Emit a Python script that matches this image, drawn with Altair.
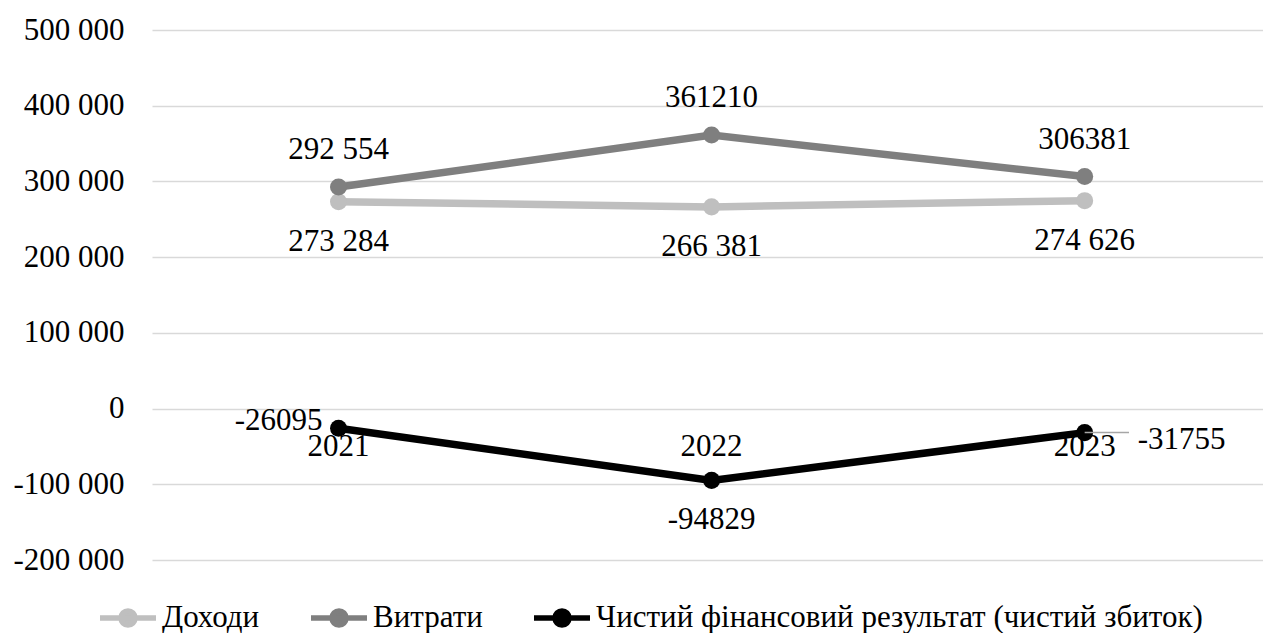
import altair as alt
import pandas as pd

# Source figures (UAH thousand)
years = [2021, 2022, 2023]
series_names = ["Доходи", "Витрати", "Чистий фінансовий результат (чистий збиток)"]
dokhody = [273284, 266381, 274626]
vytraty = [292554, 361210, 306381]
chystyi = [-26095, -94829, -31755]
# whether a value label is printed with a thousands space
dokhody_grouped = [True, True, True]
vytraty_grouped = [True, False, False]
chystyi_grouped = [False, False, False]

series_colors = ["#bfbfbf", "#7f7f7f", "#000000"]
FONT = "Liberation Serif"
FS = 31


def fmt(v, grouped):
    if not grouped:
        return str(v)
    s = f"{abs(v):,}".replace(",", " ")
    return ("-" if v < 0 else "") + s


rows = []
for name, vals, grp in zip(series_names, [dokhody, vytraty, chystyi],
                           [dokhody_grouped, vytraty_grouped, chystyi_grouped]):
    for y, v, g in zip(years, vals, grp):
        rows.append({"year": y, "series": name, "value": v, "label": fmt(v, g)})
df = pd.DataFrame(rows)
years_df = pd.DataFrame({"year": years, "zero": [0] * len(years), "label": [str(y) for y in years]})

x_scale = alt.Scale(domain=[2020.5, 2023.478], nice=False, zero=False)
y_scale = alt.Scale(domain=[-200000, 500000], nice=False, zero=False)

x_enc = alt.X("year:Q", scale=x_scale, axis=None)
y_enc = alt.Y(
    "value:Q",
    scale=y_scale,
    axis=alt.Axis(
        values=list(range(-200000, 500001, 100000)),
        labelExpr="datum.value == 0 ? '0' : (datum.value < 0 ? '-' : '') + format(abs(datum.value) / 1000, 'd') + ' 000'",
        title=None,
        ticks=False,
        domain=False,
        labelFont=FONT,
        labelFontSize=FS,
        labelColor="#000000",
        labelPadding=28,
        grid=True,
        gridColor="#d9d9d9",
        gridWidth=1.5,
    ),
)

color_enc = alt.Color(
    "series:N",
    scale=alt.Scale(domain=series_names, range=series_colors),
    sort=series_names,
    legend=alt.Legend(
        title=None,
        orient="none",
        direction="horizontal",
        legendX=-55,
        legendY=557,
        symbolType="M-1,0L1,0M-0.25,0A0.25,0.25 0 1,1 0.25,0A0.25,0.25 0 1,1 -0.25,0Z",
        symbolSize=3136,
        symbolStrokeWidth=5.5,
        labelFont=FONT,
        labelFontSize=FS,
        labelColor="#000000",
        labelOffset=3,
        columnPadding=40,
        labelLimit=0,
    ),
)

base = alt.Chart(df)

lines = base.mark_line(strokeWidth=7.5).encode(x=x_enc, y=y_enc, color=color_enc)
points = base.mark_point(filled=True, size=290, opacity=1).encode(x=x_enc, y=y_enc, color=color_enc)

text_props = dict(font=FONT, fontSize=FS, color="#000000", baseline="middle")

labels_above = base.transform_filter(
    alt.datum.series == "Витрати"
).mark_text(dy=-37, align="center", **text_props).encode(x=x_enc, y=y_enc, text="label:N")

labels_below = base.transform_filter(
    (alt.datum.series == "Доходи") | ((alt.datum.value < 0) & (alt.datum.year == 2022))
).mark_text(dy=40, align="center", **text_props).encode(x=x_enc, y=y_enc, text="label:N")

labels_left = base.transform_filter(
    (alt.datum.value < 0) & (alt.datum.year == 2021)
).mark_text(dx=-16, dy=-7, align="right", **text_props).encode(x=x_enc, y=y_enc, text="label:N")

labels_right = base.transform_filter(
    (alt.datum.value < 0) & (alt.datum.year == 2023)
).mark_text(dx=53, dy=7, align="left", **text_props).encode(x=x_enc, y=y_enc, text="label:N")

leader = base.transform_filter(
    (alt.datum.value < 0) & (alt.datum.year == 2023)
).mark_rule(color="#a6a6a6", strokeWidth=1.5).encode(
    x=x_enc, y=y_enc, x2=alt.value(977)
)

year_labels = alt.Chart(years_df).mark_text(dy=38, align="center", **text_props).encode(
    x=alt.X("year:Q", scale=x_scale, axis=None),
    y=alt.Y("zero:Q", scale=y_scale),
    text="label:N",
)

chart = alt.layer(
    lines, points, leader, year_labels, labels_above, labels_below, labels_left, labels_right
).properties(
    width=1111,
    height=530,
    autosize=alt.AutoSizeParams(type="none"),
    padding={"left": 152, "top": 30, "right": 0, "bottom": 73},
    background="#ffffff",
).configure_view(stroke=None)

chart.save("out.html", embed_options={"renderer": "svg", "actions": False})
